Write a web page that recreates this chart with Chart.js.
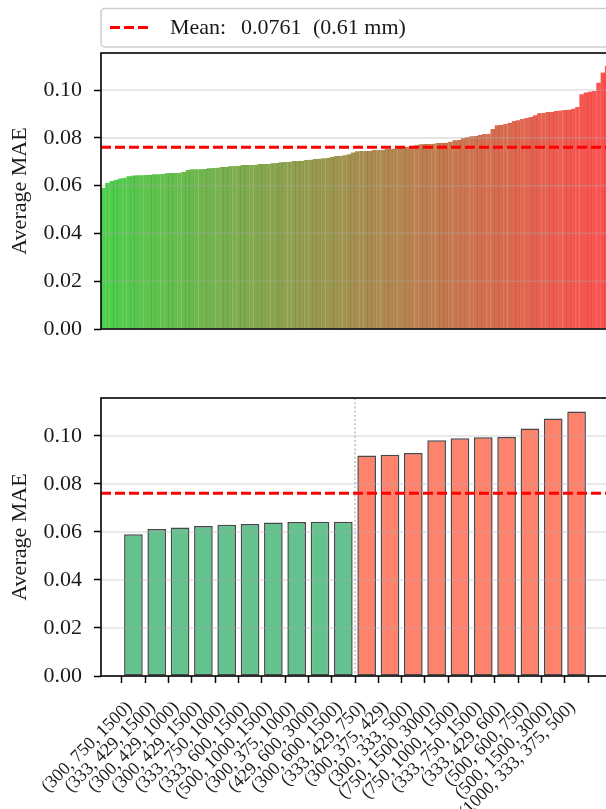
<!DOCTYPE html>
<html><head><meta charset="utf-8">
<script src="https://cdn.jsdelivr.net/npm/chart.js@4.4.1/dist/chart.umd.min.js"></script>
<style>
html,body{margin:0;padding:0;background:#fff;overflow:hidden;}
#wrap{position:relative;width:606px;height:809px;overflow:hidden;background:#fff;}
canvas{position:absolute;left:0;}
#c1{top:0}
#c2{top:360px}
</style></head><body>
<div id="wrap"><canvas id="c1" width="612" height="360"></canvas><canvas id="c2" width="612" height="449"></canvas></div>
<script>
// ---- data ----
const allValues = [
  0.0590,0.0612,0.0619,0.0625,0.0630,0.0633,0.0639,0.0642,0.0643,0.0643,
  0.0644,0.0645,0.0648,0.0648,0.0649,0.0652,0.0653,0.0653,0.0654,0.0657,
  0.0665,0.0668,0.0669,0.0669,0.0670,0.0673,0.0674,0.0675,0.0678,0.0678,
  0.0681,0.0682,0.0683,0.0686,0.0686,0.0686,0.0687,0.0690,0.0690,0.0691,
  0.0694,0.0695,0.0698,0.0699,0.0700,0.0703,0.0703,0.0704,0.0707,0.0708,
  0.0711,0.0712,0.0715,0.0716,0.0720,0.0724,0.0725,0.0727,0.0731,0.0739,
  0.0744,0.0745,0.0745,0.0746,0.0749,0.0749,0.0750,0.0753,0.0754,0.0755,
  0.0762,0.0763,0.0763,0.0764,0.0769,0.0773,0.0774,0.0774,0.0775,0.0778,
  0.0778,0.0779,0.0784,0.0790,0.0791,0.0798,0.0802,0.0807,0.0808,0.0812,
  0.0816,0.0817,0.0837,0.0853,0.0854,0.0858,0.0863,0.0870,0.0874,0.0879,
  0.0883,0.0887,0.0894,0.0903,0.0904,0.0908,0.0909,0.0912,0.0914,0.0916,
  0.0918,0.0922,0.0929,0.0982,0.0990,0.0994,0.0996,0.1031,0.1073,0.1102
];
const bottomLabels = [
  '(300, 750, 1500)','(333, 429, 1500)','(300, 429, 1000)','(300, 429, 1500)','(333, 750, 1000)',
  '(333, 600, 1500)','(500, 1000, 1500)','(300, 375, 1000)','(429, 600, 3000)','(300, 600, 1500)',
  '(333, 429, 750)','(300, 375, 429)','(300, 333, 500)','(750, 1500, 3000)','(750, 1000, 1500)',
  '(333, 750, 1500)','(333, 429, 600)','(500, 600, 750)','(500, 1500, 3000)','(1000, 333, 375, 500)'
];
const bottomValues = [
  0.0590,0.0612,0.0619,0.0625,0.0630,0.0633,0.0639,0.0642,0.0643,0.0643,
  0.0918,0.0922,0.0929,0.0982,0.0990,0.0994,0.0996,0.1031,0.1073,0.1102
];
const bestCount = 10;
const meanValue = 0.0761;
const meanMM = 0.61;
const yTicks = [0, 0.02, 0.04, 0.06, 0.08, 0.10];

// ---- styles ----
const FONT = 'Liberation Serif';
Chart.defaults.font.family = FONT;
const TXT = '#1a1a1a';
const gStart = [76, 208, 76], gEnd = [255, 80, 80];
const n = allValues.length;
const mix = (t, k) => gStart.map((c, j) => Math.round((c + (gEnd[j] - c) * t) * k));
const topColors = allValues.map((_, i) => { const c = mix(i / (n - 1), 1); return `rgb(${c})`; });
const topEdges = allValues.map((_, i) => { const c = mix(i / (n - 1), 0.86); return `rgb(${c})`; });
const bottomColors = bottomValues.map((_, i) => i < bestCount ? 'rgba(60,179,113,0.8)' : 'rgba(255,99,71,0.8)');

function overlay(vlineAt) {
  return {
    id: 'overlay',
    afterDatasetsDraw(chart) {
      const {ctx, chartArea: a, scales: {x, y}} = chart;
      ctx.save();
      ctx.strokeStyle = 'rgba(170,170,170,0.35)';
      ctx.lineWidth = 1.6;
      yTicks.forEach(v => {
        if (v === 0) return;
        const py = y.getPixelForValue(v);
        ctx.beginPath(); ctx.moveTo(a.left, py); ctx.lineTo(a.right, py); ctx.stroke();
      });
      if (vlineAt !== null) {
        const px = x.getPixelForValue(vlineAt);
        ctx.strokeStyle = 'rgba(150,150,150,0.6)';
        ctx.lineWidth = 1.6;
        ctx.setLineDash([2, 2.2]);
        ctx.beginPath(); ctx.moveTo(px, a.top); ctx.lineTo(px, a.bottom); ctx.stroke();
      }
      const my = y.getPixelForValue(meanValue);
      ctx.strokeStyle = '#ff0000';
      ctx.lineWidth = 3;
      ctx.setLineDash([10, 4]);
      ctx.beginPath(); ctx.moveTo(a.left, my); ctx.lineTo(a.right, my); ctx.stroke();
      ctx.setLineDash([]);
      ctx.strokeStyle = '#000';
      ctx.lineWidth = 1.6;
      ctx.strokeRect(a.left, a.top, a.right - a.left, a.bottom - a.top);
      ctx.restore();
    }
  };
}

const legendPlugin = {
  id: 'legendBox',
  afterDraw(chart) {
    const ctx = chart.ctx;
    ctx.save();
    ctx.fillStyle = 'rgba(255,255,255,0.9)';
    ctx.strokeStyle = '#cfcfcf';
    ctx.lineWidth = 1.6;
    ctx.beginPath();
    ctx.roundRect(101, 8.5, 520, 38.5, 4);
    ctx.fill(); ctx.stroke();
    ctx.strokeStyle = '#ff0000';
    ctx.lineWidth = 3;
    ctx.setLineDash([10, 4]);
    ctx.beginPath(); ctx.moveTo(110, 27.5); ctx.lineTo(151, 27.5); ctx.stroke();
    ctx.setLineDash([]);
    ctx.fillStyle = TXT;
    ctx.font = `22px "${FONT}"`;
    ctx.textBaseline = 'middle';
    ctx.fillText('Mean:', 170, 28);
    ctx.fillText(meanValue.toFixed(4), 241, 28);
    ctx.fillText(`(${meanMM.toFixed(2)} mm)`, 313, 28);
    ctx.restore();
  }
};

function yAxis(max) {
  return {
    min: 0, max: max,
    afterBuildTicks: s => { s.ticks = yTicks.map(v => ({value: v})); },
    afterFit: s => { s.width = 101; },
    ticks: { font: {size: 22}, color: TXT, padding: 12, callback: v => v.toFixed(2) },
    grid: { drawOnChartArea: false, drawTicks: true, tickLength: 7, tickColor: '#000', tickWidth: 1.5 },
    border: { display: false },
    title: { display: true, text: 'Average MAE', font: {size: 22}, color: TXT, padding: {top: 7, bottom: 0} }
  };
}

new Chart(document.getElementById('c1'), {
  type: 'bar',
  data: {
    labels: allValues.map((_, i) => String(i)),
    datasets: [{
      data: allValues,
      backgroundColor: topColors,
      borderColor: topEdges,
      borderWidth: {top: 0, right: 0.8, bottom: 0, left: 0},
      categoryPercentage: 1, barPercentage: 1
    }]
  },
  options: {
    responsive: false, animation: false, devicePixelRatio: 1,
    layout: { padding: {top: 53, right: 3, bottom: 31, left: 0} },
    plugins: { legend: {display: false}, tooltip: {enabled: false} },
    scales: {
      x: { display: false, offset: true },
      y: yAxis(0.1155)
    }
  },
  plugins: [overlay(null), legendPlugin]
});

new Chart(document.getElementById('c2'), {
  type: 'bar',
  data: {
    datasets: [{
      data: bottomValues.map((v, i) => ({x: i, y: v})),
      backgroundColor: bottomColors,
      borderColor: 'rgba(40,40,40,0.85)',
      borderWidth: 1.5,
      borderSkipped: false,
      categoryPercentage: 1, barPercentage: 0.8
    }]
  },
  options: {
    responsive: false, animation: false, devicePixelRatio: 1,
    layout: { padding: {top: 38, right: 3, bottom: 0, left: 0} },
    plugins: { legend: {display: false}, tooltip: {enabled: false} },
    scales: {
      x: {
        type: 'linear', min: -1.39, max: bottomLabels.length - 1 + 1.39, offset: false,
        afterBuildTicks: s => { s.ticks = bottomLabels.map((_, i) => ({value: i})); },
        afterFit: s => { s.height = 133; },
        ticks: { autoSkip: false, minRotation: 45, maxRotation: 45, padding: 14, labelOffset: -4,
                 font: {size: 18}, color: TXT, callback: v => bottomLabels[v] },
        grid: { drawOnChartArea: false, drawTicks: true, tickLength: 7, tickColor: '#000', tickWidth: 1.5 },
        border: { display: false }
      },
      y: yAxis(0.1158)
    }
  },
  plugins: [overlay(bestCount - 0.5)]
});
</script>
</body></html>
